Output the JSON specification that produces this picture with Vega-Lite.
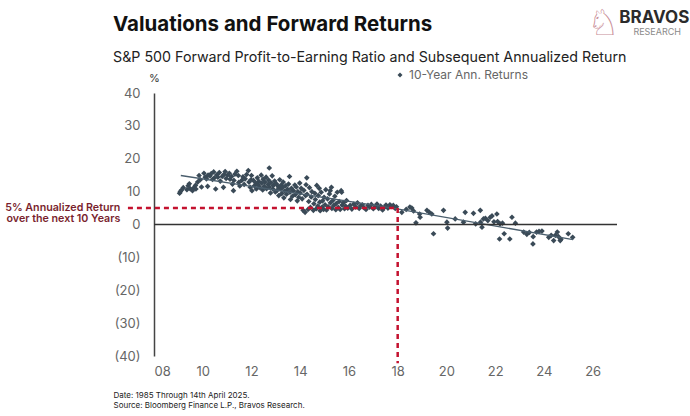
{
  "$schema": "https://vega.github.io/schema/vega-lite/v6.json",
  "autosize": {"type": "none"},
  "width": 463,
  "height": 263,
  "padding": {"left": 154, "top": 93, "right": 73, "bottom": 60},
  "background": "#ffffff",
  "config": {
    "view": {"stroke": null},
    "font": "Inter",
    "axis": {"grid": false, "ticks": false, "labelFont": "Inter", "labelFontSize": 13, "labelColor": "#666666", "labelOverlap": false}
  },
  "title": {
    "text": "Valuations and Forward Returns",
    "subtitle": "S&P 500 Forward Profit-to-Earning Ratio and Subsequent Annualized Return",
    "anchor": "start",
    "frame": "group",
    "dx": -41,
    "offset": -59,
    "font": "Inter",
    "fontSize": 20.5,
    "fontWeight": "bold",
    "color": "#111111",
    "subtitleFont": "Inter",
    "subtitleFontSize": 14.25,
    "subtitleColor": "#222222",
    "subtitlePadding": 15
  },
  "datasets": {
    "returns": [
      {"pe": 9.05, "ret": 9.5}, {"pe": 9.08, "ret": 10.0}, {"pe": 9.12, "ret": 10.4}, {"pe": 9.2, "ret": 11.2},
      {"pe": 9.35, "ret": 10.6}, {"pe": 9.4, "ret": 11.8}, {"pe": 9.45, "ret": 12.4}, {"pe": 9.48, "ret": 10.9},
      {"pe": 9.58, "ret": 10.3}, {"pe": 9.62, "ret": 11.1}, {"pe": 9.7, "ret": 11.9}, {"pe": 9.72, "ret": 10.8},
      {"pe": 9.79, "ret": 12.9}, {"pe": 9.85, "ret": 14.9}, {"pe": 9.9, "ret": 13.6}, {"pe": 9.95, "ret": 11.4},
      {"pe": 10.05, "ret": 15.6}, {"pe": 10.1, "ret": 14.4}, {"pe": 10.15, "ret": 13.9}, {"pe": 10.2, "ret": 11.6}, {"pe": 10.22, "ret": 15.0},
      {"pe": 10.3, "ret": 14.8}, {"pe": 10.35, "ret": 15.5}, {"pe": 10.4, "ret": 13.7}, {"pe": 10.45, "ret": 16.0}, {"pe": 10.48, "ret": 14.2},
      {"pe": 10.53, "ret": 10.8}, {"pe": 10.58, "ret": 15.1}, {"pe": 10.62, "ret": 14.4}, {"pe": 10.68, "ret": 15.8}, {"pe": 10.72, "ret": 13.2},
      {"pe": 10.8, "ret": 14.6}, {"pe": 10.85, "ret": 11.3}, {"pe": 10.87, "ret": 15.2}, {"pe": 10.92, "ret": 16.1}, {"pe": 10.96, "ret": 14.0},
      {"pe": 11.02, "ret": 15.0}, {"pe": 11.09, "ret": 15.6}, {"pe": 11.12, "ret": 13.8}, {"pe": 11.18, "ret": 14.6}, {"pe": 11.22, "ret": 12.3},
      {"pe": 11.26, "ret": 10.3}, {"pe": 11.28, "ret": 13.4}, {"pe": 11.32, "ret": 15.3}, {"pe": 11.4, "ret": 16.2}, {"pe": 11.46, "ret": 14.9}, {"pe": 11.48, "ret": 12.8},
      {"pe": 11.52, "ret": 11.7}, {"pe": 11.6, "ret": 13.4}, {"pe": 11.65, "ret": 14.5}, {"pe": 11.7, "ret": 12.2}, {"pe": 11.74, "ret": 13.9},
      {"pe": 11.8, "ret": 15.2}, {"pe": 11.87, "ret": 16.4}, {"pe": 11.9, "ret": 12.9}, {"pe": 11.95, "ret": 11.3}, {"pe": 11.98, "ret": 13.6},
      {"pe": 12.0, "ret": 14.9}, {"pe": 12.02, "ret": 10.3}, {"pe": 12.08, "ret": 13.4}, {"pe": 12.12, "ret": 11.8}, {"pe": 12.18, "ret": 12.6}, {"pe": 12.2, "ret": 10.8}, {"pe": 12.24, "ret": 14.2},
      {"pe": 12.28, "ret": 12.0}, {"pe": 12.3, "ret": 13.1}, {"pe": 12.35, "ret": 11.2}, {"pe": 12.4, "ret": 15.0}, {"pe": 12.42, "ret": 12.6}, {"pe": 12.46, "ret": 10.5}, {"pe": 12.48, "ret": 13.8},
      {"pe": 12.52, "ret": 11.6}, {"pe": 12.55, "ret": 12.9}, {"pe": 12.6, "ret": 14.4}, {"pe": 12.62, "ret": 10.9}, {"pe": 12.68, "ret": 12.2}, {"pe": 12.7, "ret": 13.5}, {"pe": 12.73, "ret": 17.2}, {"pe": 12.74, "ret": 11.4},
      {"pe": 12.78, "ret": 9.6}, {"pe": 12.8, "ret": 12.7}, {"pe": 12.85, "ret": 14.8}, {"pe": 12.88, "ret": 10.8}, {"pe": 12.9, "ret": 11.9}, {"pe": 12.95, "ret": 13.2}, {"pe": 12.98, "ret": 9.9},
      {"pe": 13.02, "ret": 12.4}, {"pe": 13.05, "ret": 10.4}, {"pe": 13.1, "ret": 11.5}, {"pe": 13.12, "ret": 8.8}, {"pe": 13.16, "ret": 13.6}, {"pe": 13.2, "ret": 10.9}, {"pe": 13.22, "ret": 12.0}, {"pe": 13.24, "ret": 9.4},
      {"pe": 13.28, "ret": 11.3}, {"pe": 13.3, "ret": 12.9}, {"pe": 13.33, "ret": 8.1}, {"pe": 13.36, "ret": 10.2}, {"pe": 13.4, "ret": 11.8}, {"pe": 13.44, "ret": 9.2}, {"pe": 13.48, "ret": 10.7},
      {"pe": 13.52, "ret": 12.3}, {"pe": 13.56, "ret": 14.6}, {"pe": 13.58, "ret": 9.8}, {"pe": 13.6, "ret": 7.6}, {"pe": 13.64, "ret": 11.0}, {"pe": 13.68, "ret": 8.6}, {"pe": 13.72, "ret": 10.3},
      {"pe": 13.78, "ret": 12.0}, {"pe": 13.8, "ret": 9.1}, {"pe": 13.84, "ret": 11.4}, {"pe": 13.88, "ret": 7.2}, {"pe": 13.9, "ret": 10.0}, {"pe": 13.94, "ret": 8.3}, {"pe": 13.98, "ret": 12.6},
      {"pe": 14.0, "ret": 9.6}, {"pe": 14.04, "ret": 11.0}, {"pe": 14.08, "ret": 7.8}, {"pe": 14.12, "ret": 4.3}, {"pe": 14.15, "ret": 10.4}, {"pe": 14.2, "ret": 3.7}, {"pe": 14.22, "ret": 8.8}, {"pe": 14.24, "ret": 12.1},
      {"pe": 14.27, "ret": 14.2}, {"pe": 14.28, "ret": 9.2}, {"pe": 14.32, "ret": 4.6}, {"pe": 14.35, "ret": 7.0}, {"pe": 14.38, "ret": 11.2}, {"pe": 14.42, "ret": 5.2}, {"pe": 14.45, "ret": 8.4}, {"pe": 14.48, "ret": 10.0},
      {"pe": 14.54, "ret": 4.3}, {"pe": 14.56, "ret": 6.3}, {"pe": 14.6, "ret": 9.5}, {"pe": 14.62, "ret": 7.6}, {"pe": 14.66, "ret": 4.8}, {"pe": 14.68, "ret": 11.9}, {"pe": 14.72, "ret": 5.6}, {"pe": 14.74, "ret": 8.8},
      {"pe": 14.78, "ret": 11.0}, {"pe": 14.8, "ret": 6.8}, {"pe": 14.82, "ret": 4.2}, {"pe": 14.86, "ret": 9.8}, {"pe": 14.9, "ret": 5.3}, {"pe": 14.92, "ret": 7.2}, {"pe": 14.96, "ret": 4.6}, {"pe": 14.98, "ret": 8.3},
      {"pe": 15.02, "ret": 6.0}, {"pe": 15.05, "ret": 10.6}, {"pe": 15.08, "ret": 4.4}, {"pe": 15.12, "ret": 7.8}, {"pe": 15.15, "ret": 5.4}, {"pe": 15.2, "ret": 9.3}, {"pe": 15.23, "ret": 10.3}, {"pe": 15.24, "ret": 6.6},
      {"pe": 15.28, "ret": 11.3}, {"pe": 15.3, "ret": 4.9}, {"pe": 15.34, "ret": 7.3}, {"pe": 15.38, "ret": 5.8}, {"pe": 15.42, "ret": 8.6}, {"pe": 15.46, "ret": 4.5}, {"pe": 15.48, "ret": 6.4},
      {"pe": 15.52, "ret": 9.8}, {"pe": 15.56, "ret": 5.2}, {"pe": 15.6, "ret": 7.0}, {"pe": 15.64, "ret": 4.6}, {"pe": 15.68, "ret": 10.3}, {"pe": 15.7, "ret": 9.8}, {"pe": 15.72, "ret": 5.9},
      {"pe": 15.78, "ret": 6.7}, {"pe": 15.82, "ret": 4.8}, {"pe": 15.86, "ret": 5.6}, {"pe": 15.9, "ret": 7.3}, {"pe": 15.95, "ret": 5.0},
      {"pe": 16.05, "ret": 5.8}, {"pe": 16.12, "ret": 4.7}, {"pe": 16.2, "ret": 6.2}, {"pe": 16.28, "ret": 5.3}, {"pe": 16.35, "ret": 6.6}, {"pe": 16.42, "ret": 4.9}, {"pe": 16.48, "ret": 5.7},
      {"pe": 16.55, "ret": 6.0}, {"pe": 16.62, "ret": 5.1}, {"pe": 16.7, "ret": 4.6}, {"pe": 16.78, "ret": 5.8}, {"pe": 16.85, "ret": 5.3}, {"pe": 16.92, "ret": 6.1},
      {"pe": 17.0, "ret": 4.8}, {"pe": 17.08, "ret": 5.5}, {"pe": 17.15, "ret": 6.2}, {"pe": 17.22, "ret": 4.9}, {"pe": 17.3, "ret": 5.6}, {"pe": 17.38, "ret": 4.4}, {"pe": 17.45, "ret": 5.2},
      {"pe": 17.52, "ret": 5.9}, {"pe": 17.6, "ret": 5.0}, {"pe": 17.68, "ret": 6.0}, {"pe": 17.75, "ret": 5.5}, {"pe": 17.82, "ret": 5.8}, {"pe": 17.9, "ret": 4.9}, {"pe": 17.95, "ret": 5.4},
      {"pe": 18.17, "ret": 3.7}, {"pe": 18.35, "ret": 4.6}, {"pe": 18.5, "ret": 5.3}, {"pe": 18.58, "ret": 5.0}, {"pe": 18.65, "ret": 4.1}, {"pe": 18.75, "ret": 0.5}, {"pe": 18.9, "ret": 3.2}, {"pe": 18.92, "ret": 2.2},
      {"pe": 19.2, "ret": 4.3}, {"pe": 19.3, "ret": 3.7}, {"pe": 19.4, "ret": 3.2}, {"pe": 19.47, "ret": -2.8}, {"pe": 19.88, "ret": 4.3}, {"pe": 20.02, "ret": 0.7}, {"pe": 20.05, "ret": -1.1},
      {"pe": 20.36, "ret": 1.7}, {"pe": 20.7, "ret": 0.7}, {"pe": 20.77, "ret": 3.7}, {"pe": 21.11, "ret": 3.4}, {"pe": 21.2, "ret": 0.2}, {"pe": 21.39, "ret": 4.3}, {"pe": 21.4, "ret": 0.7},
      {"pe": 21.46, "ret": -0.8}, {"pe": 21.52, "ret": 1.7}, {"pe": 21.6, "ret": 1.9}, {"pe": 21.7, "ret": 1.2}, {"pe": 21.8, "ret": 2.2}, {"pe": 21.87, "ret": 2.6}, {"pe": 21.95, "ret": 0.8},
      {"pe": 22.07, "ret": 3.2}, {"pe": 22.1, "ret": 0.9}, {"pe": 22.2, "ret": 0.2}, {"pe": 22.18, "ret": -4.4}, {"pe": 22.3, "ret": 0.4}, {"pe": 22.37, "ret": -2.8}, {"pe": 22.6, "ret": -4.4},
      {"pe": 22.69, "ret": 2.2}, {"pe": 22.83, "ret": 0.4}, {"pe": 23.17, "ret": -2.3}, {"pe": 23.3, "ret": -3.0}, {"pe": 23.4, "ret": -2.4}, {"pe": 23.55, "ret": -5.9}, {"pe": 23.56, "ret": -3.7},
      {"pe": 23.7, "ret": -2.3}, {"pe": 23.8, "ret": -2.1}, {"pe": 23.92, "ret": -2.0}, {"pe": 24.2, "ret": -3.9}, {"pe": 24.3, "ret": -3.3}, {"pe": 24.4, "ret": -4.9}, {"pe": 24.47, "ret": -3.3},
      {"pe": 24.55, "ret": -2.3}, {"pe": 24.6, "ret": -3.7}, {"pe": 24.67, "ret": -4.9}, {"pe": 24.7, "ret": -4.5}, {"pe": 25.0, "ret": -2.8}, {"pe": 25.18, "ret": -3.9}
    ],
    "trend": [
      {"pe": 9.1, "ret": 14.9},
      {"pe": 17.8, "ret": 5.0},
      {"pe": 25.2, "ret": -4.6}
    ],
    "single": [{}]
  },
  "layer": [
    {
      "data": {"name": "returns"},
      "mark": {"type": "point", "shape": "diamond", "filled": true, "size": 32, "opacity": 1},
      "encoding": {
        "x": {
          "field": "pe", "type": "quantitative",
          "scale": {"domain": [8, 27], "nice": false, "zero": false},
          "axis": {
            "values": [8, 10, 12, 14, 16, 18, 20, 22, 24, 26],
            "domain": false,
            "labelPadding": 9,
            "labelExpr": "datum.value < 10 ? '0' + datum.value : '' + datum.value",
            "title": ["Date: 1985 Through 14th April 2025.", "Source: Bloomberg Finance L.P., Bravos Research."],
            "titleFont": "Inter",
            "titleFontSize": 8,
            "titleFontWeight": "normal",
            "titleColor": "#222222",
            "titleAlign": "left",
            "titleAnchor": "start",
            "titleBaseline": "top",
            "titleLineHeight": 10.5,
            "titleX": -41,
            "titleY": 35
          }
        },
        "y": {
          "field": "ret", "type": "quantitative",
          "scale": {"domain": [-40, 40], "nice": false},
          "axis": {
            "values": [-40, -30, -20, -10, 0, 10, 20, 30, 40],
            "labelOverlap": false,
            "domain": true,
            "domainColor": "#444444",
            "domainWidth": 1.5,
            "labelPadding": 14,
            "labelExpr": "datum.value < 0 ? '(' + abs(datum.value) + ')' : '' + datum.value",
            "title": "%",
            "titleAngle": 0,
            "titleX": 0,
            "titleY": -15,
            "titleAlign": "center",
            "titleBaseline": "middle",
            "titleFont": "Inter",
            "titleFontSize": 11,
            "titleFontWeight": "normal",
            "titleColor": "#333333"
          }
        },
        "color": {
          "datum": "10-Year Ann. Returns",
          "scale": {"range": ["#3a4a57"]},
          "legend": {
            "title": null,
            "orient": "none",
            "legendX": 240,
            "legendY": -24,
            "symbolType": "diamond",
            "symbolSize": 25,
            "labelFont": "Inter",
            "labelFontSize": 12,
            "labelColor": "#666666",
            "labelOffset": 3
          }
        }
      }
    },
    {
      "data": {"name": "trend"},
      "mark": {"type": "line", "color": "#4a5e6d", "strokeWidth": 1.3},
      "encoding": {
        "x": {"field": "pe", "type": "quantitative", "axis": {"values": [8, 10, 12, 14, 16, 18, 20, 22, 24, 26]}},
        "y": {"field": "ret", "type": "quantitative", "axis": {"values": [-40, -30, -20, -10, 0, 10, 20, 30, 40], "labelOverlap": false}}
      }
    },
    {
      "data": {"name": "single"},
      "mark": {"type": "rule", "color": "#333333", "strokeWidth": 1.3},
      "encoding": {
        "x": {"datum": 8, "type": "quantitative", "axis": {"values": [8, 10, 12, 14, 16, 18, 20, 22, 24, 26]}},
        "x2": {"datum": 27},
        "y": {"datum": 0, "type": "quantitative", "axis": {"values": [-40, -30, -20, -10, 0, 10, 20, 30, 40], "labelOverlap": false}}
      }
    },
    {
      "data": {"name": "single"},
      "mark": {"type": "rule", "color": "#c4122f", "strokeWidth": 2.5, "strokeDash": [5, 4]},
      "encoding": {
        "x": {"datum": 6.93, "type": "quantitative", "axis": {"values": [8, 10, 12, 14, 16, 18, 20, 22, 24, 26]}},
        "x2": {"datum": 18},
        "y": {"datum": 5, "type": "quantitative", "axis": {"values": [-40, -30, -20, -10, 0, 10, 20, 30, 40], "labelOverlap": false}}
      }
    },
    {
      "data": {"name": "single"},
      "mark": {"type": "rule", "color": "#c4122f", "strokeWidth": 2.5, "strokeDash": [5, 4]},
      "encoding": {
        "x": {"datum": 18, "type": "quantitative", "axis": {"values": [8, 10, 12, 14, 16, 18, 20, 22, 24, 26]}},
        "y": {"datum": 5, "type": "quantitative", "axis": {"values": [-40, -30, -20, -10, 0, 10, 20, 30, 40], "labelOverlap": false}},
        "y2": {"datum": -42.2}
      }
    },
    {
      "data": {"name": "single"},
      "mark": {"type": "text", "align": "right", "baseline": "middle", "font": "Inter", "fontSize": 10.7, "fontWeight": 600, "color": "#7a1f2e", "lineHeight": 10.5, "dy": 0},
      "encoding": {
        "x": {"datum": 6.62, "type": "quantitative", "axis": {"values": [8, 10, 12, 14, 16, 18, 20, 22, 24, 26]}},
        "y": {"datum": 5, "type": "quantitative", "axis": {"values": [-40, -30, -20, -10, 0, 10, 20, 30, 40], "labelOverlap": false}},
        "text": {"value": ["5% Annualized Return", "over the next 10 Years"]}
      }
    },
    {
      "data": {"name": "single"},
      "mark": {"type": "text", "align": "center", "baseline": "middle", "font": "DejaVu Sans", "fontSize": 36, "color": "#c98e98"},
      "encoding": {
        "x": {"datum": 26.44, "type": "quantitative", "axis": {"values": [8, 10, 12, 14, 16, 18, 20, 22, 24, 26]}},
        "y": {"datum": 61.0, "type": "quantitative", "axis": {"values": [-40, -30, -20, -10, 0, 10, 20, 30, 40], "labelOverlap": false}},
        "text": {"value": "♘"}
      }
    },
    {
      "data": {"name": "single"},
      "mark": {"type": "text", "align": "center", "baseline": "middle", "font": "Inter", "fontSize": 17, "fontWeight": "bold", "color": "#2b2b2b"},
      "encoding": {
        "x": {"datum": 28.53, "type": "quantitative", "axis": {"values": [8, 10, 12, 14, 16, 18, 20, 22, 24, 26]}},
        "y": {"datum": 62.7, "type": "quantitative", "axis": {"values": [-40, -30, -20, -10, 0, 10, 20, 30, 40], "labelOverlap": false}},
        "text": {"value": "BRAVOS"}
      }
    },
    {
      "data": {"name": "single"},
      "mark": {"type": "text", "align": "center", "baseline": "middle", "font": "Inter", "fontSize": 9, "letterSpacing": 3.3, "color": "#8a8a8a"},
      "encoding": {
        "x": {"datum": 28.65, "type": "quantitative", "axis": {"values": [8, 10, 12, 14, 16, 18, 20, 22, 24, 26]}},
        "y": {"datum": 58.5, "type": "quantitative", "axis": {"values": [-40, -30, -20, -10, 0, 10, 20, 30, 40], "labelOverlap": false}},
        "text": {"value": "RESEARCH"}
      }
    }
  ]
}
